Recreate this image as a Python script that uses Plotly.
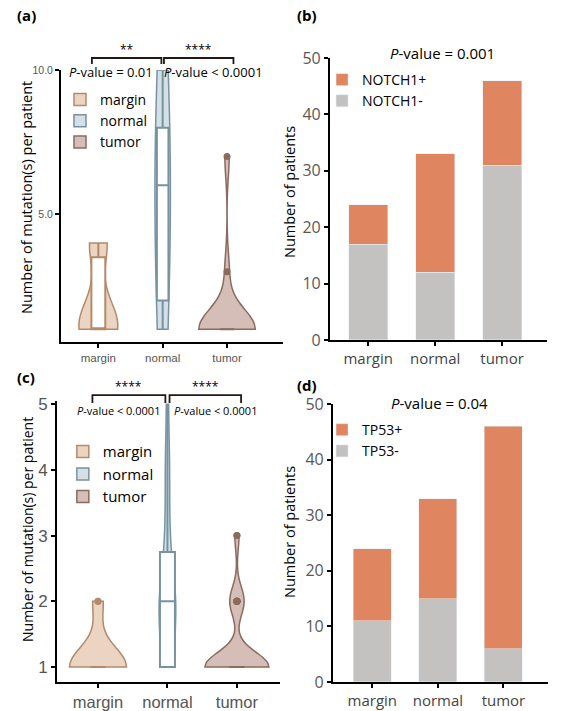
import plotly.graph_objects as go

groups = ["margin", "normal", "tumor"]

# (a) NOTCH1 mutations per patient (mutated patients only)
a_margin = [1, 1, 1, 1, 2, 4, 4]
a_normal = [1, 1, 1, 2, 2, 2, 3, 4, 5, 6, 6, 6, 7, 7, 8, 8, 8, 9, 9, 10, 10]
a_tumor = [1, 1, 1, 1, 1, 1, 1, 1, 1, 1, 1, 1, 1, 3, 7]

# (c) TP53 mutations per patient
c_margin = [1, 1, 1, 1, 1, 1, 1, 1, 1, 1, 1, 2, 2]
c_normal = [1, 1, 1, 1, 1, 1, 2, 2, 2, 2, 2, 2, 2, 2, 3, 3, 4, 4, 5]
c_tumor = [1] * 31 + [2, 2, 2, 2, 2, 2, 2, 3, 3]

# (b) NOTCH1 status counts
notch_pos = [7, 21, 15]
notch_neg = [17, 12, 31]

# (d) TP53 status counts
tp53_pos = [13, 18, 40]
tp53_neg = [11, 15, 6]

line_cols = {"margin": "#b38a6b", "normal": "#7793a2", "tumor": "#8b6b5d"}
fill_cols = {"margin": "#ecd4c2", "normal": "#d4e0e6", "tumor": "#d5beb7"}
orange = "#df8660"
gray = "#c4c2c0"
FONT = "Open Sans"

fig = go.Figure()

# violin width (data units) and inner box fraction per group
a_width = {"margin": 0.6, "normal": 0.24, "tumor": 0.88}
a_box = {"margin": 0.36, "normal": 0.75, "tumor": 0.25}
a_bw = {"margin": 0.8, "normal": 4.0, "tumor": 0.7}
c_width = {"margin": 0.82, "normal": 0.24, "tumor": 0.92}
c_box = {"margin": 0.27, "normal": 0.9, "tumor": 0.24}
c_bw = {"margin": 0.3, "normal": 0.5, "tumor": 0.22}

for g, vals in zip(groups, [a_margin, a_normal, a_tumor]):
    fig.add_trace(go.Violin(
        y=vals, name=g, xaxis="x", yaxis="y", legend="legend",
        width=a_width[g], bandwidth=a_bw[g], spanmode="hard",
        line=dict(color=line_cols[g], width=1.5), fillcolor=fill_cols[g],
        box=dict(visible=True, width=a_box[g], fillcolor="white",
                 line=dict(color=line_cols[g], width=2)),
        points="outliers", pointpos=0, jitter=0,
        marker=dict(color=line_cols[g], size=7),
    ))

for g, vals in zip(groups, [c_margin, c_normal, c_tumor]):
    fig.add_trace(go.Violin(
        y=vals, name=g, xaxis="x3", yaxis="y3", legend="legend3",
        width=c_width[g], bandwidth=c_bw[g], spanmode="hard",
        line=dict(color=line_cols[g], width=1.5), fillcolor=fill_cols[g],
        box=dict(visible=True, width=c_box[g], fillcolor="white",
                 line=dict(color=line_cols[g], width=2)),
        points="outliers", pointpos=0, jitter=0,
        marker=dict(color=line_cols[g], size=7),
    ))

fig.add_trace(go.Bar(x=groups, y=notch_neg, name="NOTCH1-", marker_color=gray,
                     width=0.58, xaxis="x2", yaxis="y2", legend="legend2"))
fig.add_trace(go.Bar(x=groups, y=notch_pos, name="NOTCH1+", marker_color=orange,
                     width=0.58, xaxis="x2", yaxis="y2", legend="legend2"))
fig.add_trace(go.Bar(x=groups, y=tp53_neg, name="TP53-", marker_color=gray,
                     width=0.58, xaxis="x4", yaxis="y4", legend="legend4"))
fig.add_trace(go.Bar(x=groups, y=tp53_pos, name="TP53+", marker_color=orange,
                     width=0.58, xaxis="x4", yaxis="y4", legend="legend4"))

axis_common = dict(showline=True, linecolor="black", linewidth=2, ticks="outside",
                   ticklen=4, tickwidth=1.5, tickcolor="black", showgrid=False,
                   zeroline=False, automargin=False)

fig.update_layout(
    width=566, height=711, margin=dict(l=0, r=0, t=0, b=0, autoexpand=False),
    paper_bgcolor="white", plot_bgcolor="white",
    barmode="stack", violinmode="overlay",
    font=dict(family=FONT, color="black"),
    xaxis=dict(axis_common, domain=[0.1078, 0.5], anchor="y", type="category",
               categoryarray=groups, range=[-0.58, 2.87],
               tickfont=dict(family="Liberation Sans", size=11.5, color="#555")),
    yaxis=dict(axis_common, domain=[0.519, 0.9015], anchor="x", range=[0.56, 10],
               dtick=5, tick0=0, tickformat=".1f",
               tickfont=dict(family="Liberation Sans", size=10.5, color="#555")),
    xaxis2=dict(axis_common, domain=[0.583, 0.9664], anchor="y2", type="category",
                categoryarray=groups, range=[-0.57, 2.67],
                tickfont=dict(family=FONT, size=15, color="#444")),
    yaxis2=dict(axis_common, domain=[0.5218, 0.9184], anchor="x2", range=[0, 50],
                dtick=10, tickfont=dict(family=FONT, size=16, color="#595959")),
    xaxis3=dict(axis_common, domain=[0.1007, 0.4947], anchor="y3", type="category",
                categoryarray=groups, range=[-0.59, 2.62],
                tickfont=dict(family="Liberation Sans", size=16.5, color="#555")),
    yaxis3=dict(axis_common, domain=[0.0408, 0.436], anchor="x3", range=[0.77, 5.05],
                dtick=1, tickfont=dict(family="Liberation Sans", size=17, color="#555")),
    xaxis4=dict(axis_common, domain=[0.5883, 0.9682], anchor="y4", type="category",
                categoryarray=groups, range=[-0.6, 2.68],
                tickfont=dict(family=FONT, size=15, color="#444")),
    yaxis4=dict(axis_common, domain=[0.0408, 0.4318], anchor="x4", range=[0, 50],
                dtick=10, tickfont=dict(family=FONT, size=16, color="#595959")),
    legend=dict(x=0.106, y=0.882, xanchor="left", yanchor="top", bgcolor="rgba(0,0,0,0)",
                font=dict(family=FONT, size=14), tracegroupgap=0),
    legend2=dict(x=0.569, y=0.91, xanchor="left", yanchor="top", traceorder="reversed",
                 bgcolor="rgba(0,0,0,0)", font=dict(family=FONT, size=14)),
    legend3=dict(x=0.111, y=0.388, xanchor="left", yanchor="top", bgcolor="rgba(0,0,0,0)",
                 font=dict(family=FONT, size=15), tracegroupgap=0),
    legend4=dict(x=0.569, y=0.4176, xanchor="left", yanchor="top", traceorder="reversed",
                 bgcolor="rgba(0,0,0,0)", font=dict(family=FONT, size=14)),
)

# y-axis titles as rotated text: (x px, y px, text, size)
ytitles = [
    (27, 198, "Number of mutation(s) per patient", 14.5),
    (289, 192, "Number of patients", 14.5),
    (27, 530, "Number of mutation(s) per patient", 14),
    (289, 532, "Number of patients", 14.5),
]
for x, y, txt, sz in ytitles:
    fig.add_annotation(xref="paper", yref="paper", x=x / 566, y=1 - y / 711, text=txt,
                       textangle=-90, showarrow=False, xanchor="center", yanchor="middle",
                       font=dict(family=FONT, size=sz, color="black"))

# significance brackets: (xref axis, x0, x1, y line, y tick end, stars)
brackets = [
    ("x", -0.1, 0.98, 0.9184, 0.910, "**"),
    ("x", 1.02, 2.1, 0.9184, 0.910, "****"),
    ("x3", -0.08, 0.97, 0.4444, 0.4332, "****"),
    ("x3", 1.03, 2.06, 0.4444, 0.4332, "****"),
]
bracket_col = "#231815"
for xr, x0, x1, yl, yt, stars in brackets:
    fig.add_shape(type="path", xref=xr, yref="paper",
                  path=f"M {x0},{yt} L {x0},{yl} L {x1},{yl} L {x1},{yt}",
                  line=dict(color=bracket_col, width=1.8))
    fig.add_annotation(xref=xr, yref="paper", x=(x0 + x1) / 2, y=yl, text=stars,
                       showarrow=False, yanchor="bottom", yshift=-2,
                       font=dict(family=FONT, size=12, color="black"))

pvals = [
    (0.196, 0.899, "<i>P</i>-value = 0.01", 13),
    (0.378, 0.899, "<i>P</i>-value < 0.0001", 13),
    (0.210, 0.422, "<i>P</i>-value < 0.0001", 11),
    (0.380, 0.422, "<i>P</i>-value < 0.0001", 11),
    (0.781, 0.925, "<i>P</i>-value = 0.001", 15),
    (0.777, 0.433, "<i>P</i>-value = 0.04", 15),
]
for x, y, txt, sz in pvals:
    fig.add_annotation(xref="paper", yref="paper", x=x, y=y, text=txt, showarrow=False,
                       xanchor="center", yanchor="middle",
                       font=dict(family=FONT, size=sz, color="black"))

panels = [(0.027, 0.979, "(a)"), (0.521, 0.979, "(b)"),
          (0.027, 0.470, "(c)"), (0.521, 0.459, "(d)")]
for x, y, txt in panels:
    fig.add_annotation(xref="paper", yref="paper", x=x, y=y, text=f"<b>{txt}</b>",
                       showarrow=False, xanchor="left", yanchor="middle",
                       font=dict(family=FONT, size=15, color="black"))

fig.write_html("out.html", config={"displayModeBar": False},
               post_script="document.body.style.margin = '0';")
